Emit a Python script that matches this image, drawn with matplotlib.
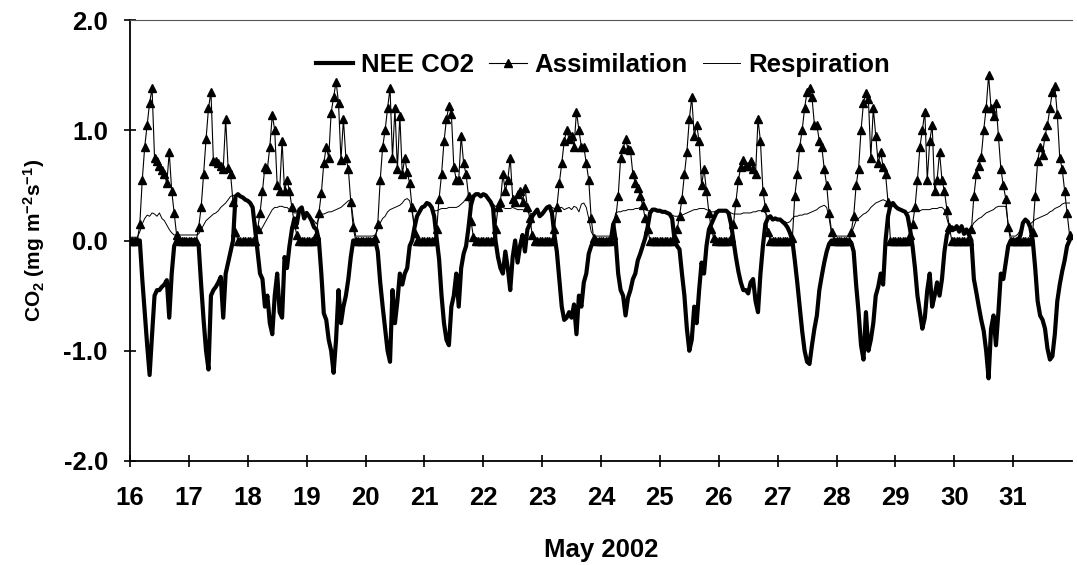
import numpy as np
import matplotlib
matplotlib.use('Agg')
from matplotlib import pyplot as plt

# hourly readings per day (16 May .. 31 May 2002)
days = list(range(16, 32))
day_ticks = list(range(16, 32))

# NEE CO2, mg m-2 s-1, one row per day, hours 0..23
nee = [
    [0, 0, 0, 0, 0, -0.35, -0.65, -0.95, -1.22, -0.85, -0.5, -0.45, -0.45, -0.42, -0.4, -0.36, -0.7, -0.3, -0.05, 0, 0, 0, 0, 0],  # 16
    [0, 0, 0, 0, -0.05, -0.4, -0.72, -1.0, -1.17, -0.5, -0.45, -0.42, -0.38, -0.33, -0.7, -0.3, -0.2, -0.1, 0.0, 0.4, 0.42, 0.4, 0.39, 0.37],  # 17
    [0.36, 0.34, 0.3, 0.1, -0.1, -0.3, -0.35, -0.6, -0.5, -0.75, -0.85, -0.5, -0.3, -0.65, -0.7, -0.15, -0.25, -0.05, 0.1, 0.2, 0.15, 0.28, 0.3, 0.2],  # 18
    [0.25, 0.22, 0.18, 0.12, 0.1, 0.0, -0.3, -0.66, -0.72, -0.9, -1.0, -1.2, -0.9, -0.45, -0.75, -0.6, -0.5, -0.35, -0.15, 0, 0, 0, 0, 0],  # 19
    [0, 0, 0, 0, 0, -0.1, -0.38, -0.6, -0.8, -1.0, -1.1, -0.45, -0.75, -0.55, -0.3, -0.4, -0.3, -0.25, -0.05, 0.0, 0.12, 0.22, 0.26, 0.3],  # 20
    [0.31, 0.34, 0.33, 0.3, 0.22, 0.02, -0.17, -0.5, -0.75, -0.9, -0.95, -0.6, -0.5, -0.3, -0.6, -0.25, -0.12, -0.05, 0.12, 0.32, 0.4, 0.42, 0.42, 0.4],  # 21
    [0.42, 0.41, 0.38, 0.35, 0.3, 0.0, -0.15, -0.25, -0.3, -0.1, -0.25, -0.45, -0.15, 0.0, -0.2, -0.05, 0.05, -0.1, 0.1, 0.15, 0.22, 0.25, 0.28, 0.22],  # 22
    [0.24, 0.27, 0.3, 0.31, 0.25, 0.05, -0.1, -0.35, -0.6, -0.72, -0.7, -0.65, -0.7, -0.58, -0.85, -0.5, -0.6, -0.38, -0.3, -0.12, -0.05, 0, 0, 0],  # 23
    [0, 0, 0, 0, 0, 0.15, 0.0, -0.3, -0.45, -0.5, -0.68, -0.52, -0.45, -0.35, -0.3, -0.18, -0.12, -0.05, 0.02, 0.12, 0.25, 0.28, 0.28, 0.27],  # 24
    [0.27, 0.26, 0.26, 0.25, 0.24, 0.2, 0.0, -0.05, -0.08, -0.3, -0.5, -0.8, -1.0, -0.9, -0.6, -0.75, -0.45, -0.2, -0.3, -0.05, 0.1, 0.15, 0.2, 0.25],  # 25
    [0.27, 0.27, 0.27, 0.27, 0.25, 0.15, 0.0, -0.15, -0.28, -0.38, -0.45, -0.45, -0.48, -0.38, -0.35, -0.55, -0.65, -0.3, -0.05, 0.15, 0.2, 0.22, 0.19, 0.2],  # 26
    [0.19, 0.19, 0.17, 0.15, 0.12, 0.07, 0.0, -0.18, -0.38, -0.6, -0.82, -1.0, -1.1, -1.12, -0.95, -0.8, -0.68, -0.45, -0.32, -0.2, -0.1, -0.03, 0, 0],  # 27
    [0, 0, 0, 0, 0, 0, -0.02, -0.1, -0.4, -0.65, -0.95, -1.08, -0.65, -1.0, -0.9, -0.75, -0.5, -0.42, -0.3, -0.4, 0.0, 0.22, 0.32, 0.34],  # 28
    [0.31, 0.29, 0.28, 0.27, 0.26, 0.22, 0.1, -0.05, -0.25, -0.5, -0.65, -0.8, -0.7, -0.45, -0.3, -0.6, -0.5, -0.38, -0.5, -0.35, -0.1, 0.05, 0.1, 0.12],  # 29
    [0.1, 0.13, 0.08, 0.13, 0.06, 0.1, 0.05, 0.0, -0.35, -0.47, -0.6, -0.72, -0.82, -1.0, -1.25, -0.8, -0.68, -0.95, -0.65, -0.3, -0.35, -0.2, -0.05, 0],  # 30
    [0, 0, 0, 0.05, 0.16, 0.19, 0.17, 0.12, 0.0, -0.25, -0.55, -0.68, -0.72, -0.8, -0.98, -1.08, -1.05, -0.85, -0.55, -0.4, -0.28, -0.18, -0.05, 0],  # 31
]

# assimilation
assim = [
    [0, 0, 0, 0, 0.15, 0.55, 0.85, 1.05, 1.25, 1.38, 0.75, 0.72, 0.68, 0.64, 0.6, 0.52, 0.8, 0.45, 0.25, 0.05, 0, 0, 0, 0],  # 16
    [0, 0, 0, 0, 0.12, 0.3, 0.6, 0.92, 1.2, 1.35, 0.72, 0.72, 0.7, 0.68, 0.65, 1.1, 0.66, 0.6, 0.35, 0.08, 0, 0, 0, 0],  # 17
    [0, 0, 0, 0, 0.1, 0.25, 0.45, 0.67, 0.65, 0.85, 1.14, 1.0, 0.5, 0.45, 0.9, 0.45, 0.55, 0.45, 0.3, 0.15, 0.05, 0, 0, 0],  # 18
    [0, 0, 0, 0, 0.05, 0.25, 0.43, 0.7, 0.85, 0.75, 1.16, 1.3, 1.44, 1.25, 0.73, 1.1, 0.75, 0.65, 0.35, 0.12, 0, 0, 0, 0],  # 19
    [0, 0, 0, 0, 0.02, 0.15, 0.55, 0.85, 1.0, 1.2, 1.38, 0.75, 1.2, 0.65, 1.13, 0.6, 0.75, 0.62, 0.52, 0.3, 0.07, 0, 0, 0],  # 20
    [0, 0, 0, 0, 0, 0.1, 0.38, 0.6, 0.9, 1.1, 1.22, 1.15, 0.67, 0.55, 0.55, 0.95, 0.7, 0.6, 0.4, 0.18, 0.03, 0, 0, 0],  # 21
    [0, 0, 0, 0, 0, 0.1, 0.3, 0.35, 0.6, 0.45, 0.55, 0.75, 0.38, 0.35, 0.42, 0.45, 0.35, 0.48, 0.3, 0.2, 0.05, 0, 0, 0],  # 22
    [0, 0, 0, 0, 0, 0.1, 0.3, 0.52, 0.7, 0.9, 1.0, 0.92, 0.95, 0.85, 1.17, 1.0, 0.85, 0.85, 0.7, 0.55, 0.2, 0.02, 0, 0],  # 23
    [0, 0, 0, 0, 0, 0.05, 0.2, 0.4, 0.75, 0.83, 0.92, 0.83, 0.82, 0.6, 0.52, 0.48, 0.4, 0.32, 0.2, 0.1, 0, 0, 0, 0],  # 24
    [0, 0, 0, 0, 0, 0, 0.02, 0.1, 0.22, 0.38, 0.6, 0.8, 1.1, 1.3, 0.95, 1.05, 0.9, 0.5, 0.65, 0.45, 0.25, 0.1, 0.02, 0],  # 25
    [0, 0, 0, 0, 0, 0.02, 0.15, 0.35, 0.55, 0.67, 0.73, 0.68, 0.68, 0.72, 0.65, 0.6, 1.1, 0.9, 0.45, 0.3, 0.08, 0, 0, 0],  # 26
    [0, 0, 0, 0, 0, 0, 0.02, 0.4, 0.6, 0.85, 1.0, 1.2, 1.35, 1.38, 1.3, 1.05, 1.05, 0.9, 0.85, 0.65, 0.5, 0.25, 0.08, 0],  # 27
    [0, 0, 0, 0, 0, 0, 0.08, 0.22, 0.5, 0.65, 1.0, 1.25, 1.34, 1.28, 0.75, 1.2, 0.95, 0.7, 0.8, 0.67, 0.6, 0.35, 0, 0],  # 28
    [0, 0, 0, 0, 0, 0, 0.05, 0.15, 0.3, 0.55, 0.85, 1.0, 1.17, 0.55, 0.9, 1.05, 0.45, 0.55, 0.8, 0.55, 0.45, 0.28, 0.12, 0],  # 29
    [0, 0, 0, 0, 0, 0, 0, 0.1, 0.4, 0.6, 0.68, 0.76, 1.0, 1.2, 1.5, 1.2, 1.13, 1.25, 0.95, 0.65, 0.5, 0.38, 0.12, 0],  # 30
    [0, 0, 0, 0, 0, 0, 0, 0, 0.08, 0.4, 0.72, 0.85, 0.78, 0.95, 1.05, 1.2, 1.35, 1.4, 1.15, 0.75, 0.65, 0.45, 0.25, 0.05],  # 31
]

# respiration
resp = [
    [0.03, 0.03, 0.03, 0.03, 0.08, 0.15, 0.2, 0.23, 0.22, 0.25, 0.24, 0.22, 0.25, 0.2, 0.18, 0.14, 0.1, 0.07, 0.05, 0.05, 0.05, 0.05, 0.05, 0.05],  # 16
    [0.05, 0.05, 0.05, 0.05, 0.06, 0.1, 0.14, 0.18, 0.2, 0.22, 0.24, 0.25, 0.27, 0.3, 0.32, 0.34, 0.37, 0.4, 0.41, 0.4, 0.42, 0.4, 0.39, 0.37],  # 17
    [0.36, 0.34, 0.3, 0.2, 0.07, 0.08, 0.12, 0.16, 0.2, 0.24, 0.28, 0.3, 0.3, 0.31, 0.31, 0.3, 0.3, 0.28, 0.27, 0.25, 0.25, 0.26, 0.26, 0.25],  # 18
    [0.25, 0.22, 0.2, 0.18, 0.15, 0.2, 0.24, 0.24, 0.25, 0.26, 0.26, 0.27, 0.28, 0.29, 0.3, 0.32, 0.34, 0.36, 0.37, 0.2, 0.04, 0.04, 0.04, 0.04],  # 19
    [0.04, 0.04, 0.04, 0.04, 0.05, 0.1, 0.16, 0.2, 0.22, 0.26, 0.28, 0.29, 0.3, 0.31, 0.32, 0.34, 0.37, 0.38, 0.36, 0.25, 0.15, 0.22, 0.26, 0.3],  # 20
    [0.31, 0.34, 0.33, 0.3, 0.27, 0.27, 0.28, 0.29, 0.29, 0.29, 0.3, 0.3, 0.3, 0.3, 0.31, 0.33, 0.35, 0.38, 0.39, 0.4, 0.4, 0.42, 0.42, 0.4],  # 21
    [0.42, 0.41, 0.38, 0.35, 0.33, 0.31, 0.3, 0.3, 0.3, 0.29, 0.29, 0.29, 0.3, 0.29, 0.28, 0.28, 0.28, 0.27, 0.26, 0.25, 0.24, 0.25, 0.27, 0.24],  # 22
    [0.24, 0.27, 0.3, 0.31, 0.3, 0.29, 0.29, 0.3, 0.3, 0.28, 0.29, 0.3, 0.28, 0.31, 0.3, 0.26, 0.33, 0.34, 0.3, 0.2, 0.08, 0.04, 0.04, 0.04],  # 23
    [0.04, 0.04, 0.04, 0.04, 0.04, 0.15, 0.25, 0.26, 0.26, 0.27, 0.27, 0.28, 0.28, 0.28, 0.29, 0.29, 0.3, 0.29, 0.28, 0.27, 0.27, 0.28, 0.28, 0.27],  # 24
    [0.27, 0.26, 0.26, 0.25, 0.24, 0.23, 0.22, 0.22, 0.22, 0.23, 0.24, 0.25, 0.26, 0.27, 0.28, 0.28, 0.29, 0.29, 0.29, 0.28, 0.27, 0.26, 0.26, 0.27],  # 25
    [0.27, 0.27, 0.27, 0.27, 0.26, 0.25, 0.24, 0.24, 0.24, 0.24, 0.25, 0.25, 0.25, 0.25, 0.26, 0.26, 0.27, 0.27, 0.27, 0.25, 0.22, 0.22, 0.2, 0.2],  # 26
    [0.19, 0.19, 0.18, 0.17, 0.16, 0.17, 0.2, 0.22, 0.22, 0.23, 0.23, 0.24, 0.24, 0.25, 0.26, 0.27, 0.28, 0.3, 0.31, 0.32, 0.3, 0.2, 0.06, 0.04],  # 27
    [0.04, 0.04, 0.04, 0.04, 0.04, 0.04, 0.06, 0.12, 0.18, 0.2, 0.22, 0.24, 0.25, 0.27, 0.3, 0.32, 0.34, 0.35, 0.36, 0.37, 0.36, 0.34, 0.32, 0.34],  # 28
    [0.31, 0.29, 0.28, 0.27, 0.26, 0.25, 0.26, 0.27, 0.27, 0.27, 0.27, 0.28, 0.28, 0.28, 0.28, 0.29, 0.29, 0.29, 0.3, 0.3, 0.28, 0.2, 0.12, 0.12],  # 29
    [0.1, 0.12, 0.1, 0.12, 0.08, 0.1, 0.1, 0.12, 0.16, 0.18, 0.2, 0.21, 0.23, 0.25, 0.26, 0.27, 0.28, 0.3, 0.31, 0.31, 0.31, 0.31, 0.15, 0.04],  # 30
    [0.04, 0.04, 0.06, 0.1, 0.16, 0.19, 0.17, 0.15, 0.17, 0.19, 0.2, 0.21, 0.22, 0.23, 0.24, 0.26, 0.27, 0.29, 0.3, 0.31, 0.33, 0.34, 0.34, 0.34],  # 31
]

for name, rows in (('nee', nee), ('assim', assim), ('resp', resp)):
    for d, row in zip(days, rows):
        assert len(row) == 24, '%s day %d has %d values' % (name, d, len(row))

plt.rcParams['font.family'] = ['Liberation Sans', 'DejaVu Sans']
plt.rcParams['font.weight'] = 'bold'
plt.rcParams['mathtext.fontset'] = 'custom'
plt.rcParams['mathtext.default'] = 'bf'
plt.rcParams['mathtext.bf'] = 'Liberation Sans:bold'
plt.rcParams['mathtext.rm'] = 'Liberation Sans:bold'

# time axis in day-of-month units
t = (np.array(days)[:, None] + np.arange(24)[None, :] / 24.0).ravel()
nee_v = np.array(nee).ravel()
assim_v = np.array(assim).ravel()
resp_v = np.array(resp).ravel()

fig = plt.figure(figsize=(10.77, 5.65), dpi=100)
ax = fig.add_axes([130 / 1077, 1 - 461 / 565, (1072 - 130) / 1077, (461 - 20) / 565])

ax.plot(t, assim_v, color='black', lw=0.8, marker='^', ms=6, mec='black', mfc='black',
        label='Assimilation', zorder=2)
ax.plot(t, resp_v, color='black', lw=0.7, label='Respiration', zorder=3)
ax.plot(t, nee_v, color='black', lw=3.0, solid_joinstyle='round', label='NEE CO2', zorder=4)

ax.set_xlim(16, 32)
ax.set_ylim(-2, 2)
ax.set_xticks(day_ticks)
ax.set_yticks([-2, -1, 0, 1, 2])
ax.set_yticklabels(['-2.0', '-1.0', '0.0', '1.0', '2.0'])
ax.tick_params(axis='both', direction='inout', length=8, width=1.2, labelsize=18.5, pad=12)
ax.tick_params(axis='x', pad=14)

ax.spines['right'].set_visible(False)
ax.spines['top'].set_linewidth(0.8)
ax.spines['top'].set_color('#555555')
ax.spines['left'].set_linewidth(1.3)
ax.spines['bottom'].set_linewidth(1.3)

ax.set_xlabel('May 2002', fontsize=18.5, fontweight='bold', labelpad=20)
ax.set_ylabel(r'CO$_{2}$ (mg m$^{-2}$s$^{-1}$)', fontsize=15, fontweight='bold', labelpad=12)

h, l = ax.get_legend_handles_labels()
order = [2, 0, 1]
ax.legend([h[i] for i in order], [l[i] for i in order], loc='center',
          bbox_to_anchor=(0.502, 0.898), ncol=3, frameon=False,
          handlelength=1.45, handletextpad=0.3, columnspacing=0.6, numpoints=1,
          prop={'weight': 'bold', 'size': 18.5})

fig.savefig('out.png', dpi=100)
